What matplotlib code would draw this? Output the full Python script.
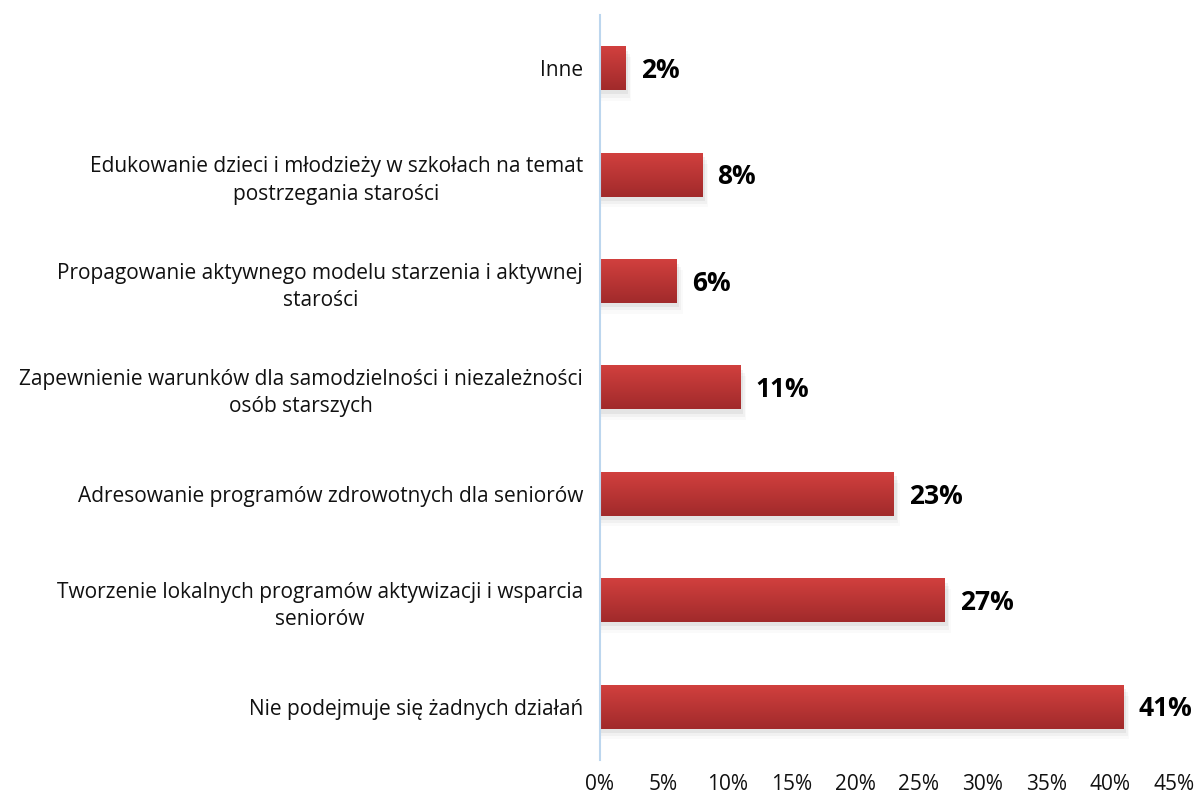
import numpy as np
import matplotlib.pyplot as plt
from matplotlib.colors import LinearSegmentedColormap
from matplotlib.patches import Rectangle

categories = [
    'Nie podejmuje się żadnych działań',
    'Tworzenie lokalnych programów aktywizacji i wsparcia\nseniorów',
    'Adresowanie programów zdrowotnych dla seniorów',
    'Zapewnienie warunków dla samodzielności i niezależności\nosób starszych',
    'Propagowanie aktywnego modelu starzenia i aktywnej\nstarości',
    'Edukowanie dzieci i młodzieży w szkołach na temat\npostrzegania starości',
    'Inne',
]
values = [41, 27, 23, 11, 6, 8, 2]
xticks = [0, 5, 10, 15, 20, 25, 30, 35, 40, 45]

plt.rcParams['font.family'] = ['Open Sans', 'DejaVu Sans']

fig = plt.figure(figsize=(11.97, 8), dpi=100)
ax = fig.add_axes([0.501, 0.05, 0.48, 0.931])

y = np.arange(len(categories))
bar_h = 0.41
cmap = LinearSegmentedColormap.from_list('red', ['#a12a2b', '#d1403e'])
grad = np.linspace(0, 1, 100).reshape(-1, 1)

for yi, v in zip(y, values):
    # soft shadow
    for k, a in enumerate([0.10, 0.07, 0.04]):
        off = 0.04 + k * 0.03
        ax.add_patch(Rectangle((0, yi - bar_h / 2 - off), v + 0.25 + k * 0.12, bar_h,
                               facecolor='gray', alpha=a, edgecolor='none', zorder=1))
    ax.imshow(grad, extent=(0, v, yi - bar_h / 2, yi + bar_h / 2), origin='lower',
              cmap=cmap, aspect='auto', zorder=2, interpolation='bicubic')
    ax.text(v + 1.2, yi - 0.02, f'{v}%', va='center', ha='left', fontsize=19,
            fontweight='bold', color='black', zorder=3)

ax.set_xlim(0, 45)
ax.set_ylim(-0.5, len(categories) - 0.5)
ax.set_yticks(y)
ax.set_yticklabels(categories, fontsize=15, multialignment='center',
                   linespacing=1.4, color='#111111')
ax.set_xticks(xticks)
ax.set_xticklabels([f'{t}%' for t in xticks], fontsize=15, color='#111111')
ax.tick_params(axis='both', length=0)
ax.tick_params(axis='y', pad=12)
ax.tick_params(axis='x', pad=10)

for s in ['top', 'right', 'bottom']:
    ax.spines[s].set_visible(False)
ax.spines['left'].set_color('#bcd6ee')
ax.spines['left'].set_linewidth(1.5)

fig.savefig('out.png', dpi=100)
